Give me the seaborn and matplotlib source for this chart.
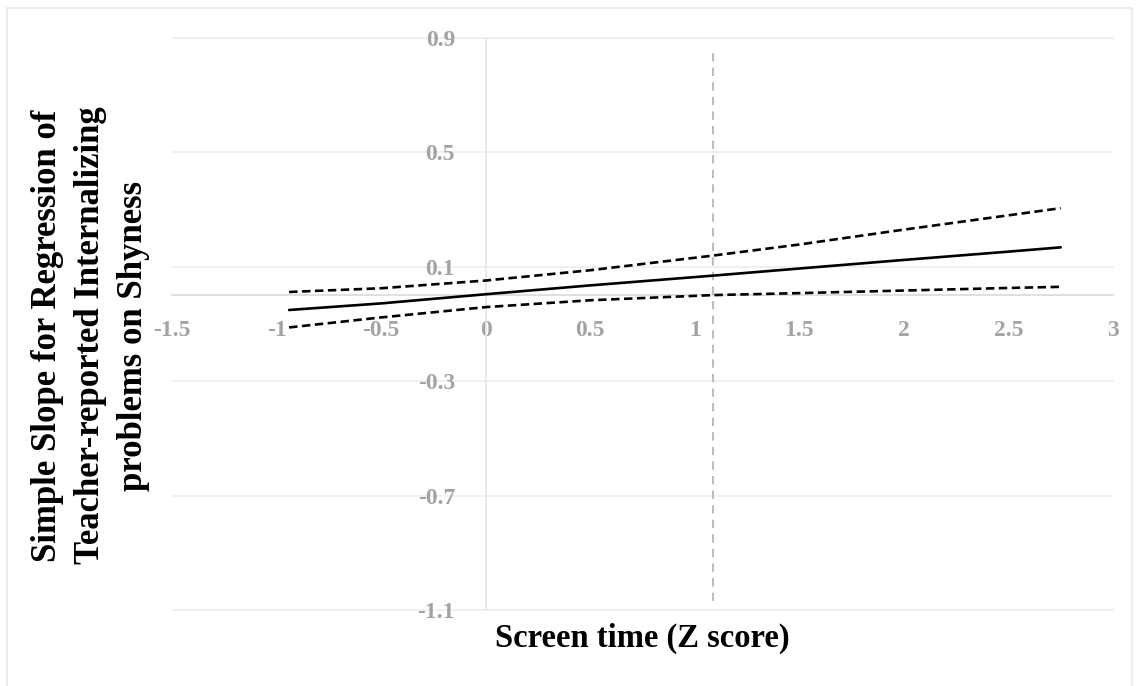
import matplotlib
matplotlib.use("Agg")
import matplotlib.pyplot as plt
import seaborn as sns
import pandas as pd
from matplotlib.patches import Rectangle

# ---- data ----
screen_time = [-0.94, -0.5, 0.0, 0.5, 1.085, 1.5, 2.0, 2.5, 2.75]
simple_slope = [-0.051, -0.028, 0.004, 0.035, 0.069, 0.094, 0.124, 0.153, 0.168]
upper_ci = [0.012, 0.025, 0.052, 0.088, 0.139, 0.178, 0.230, 0.280, 0.305]
lower_ci = [-0.112, -0.077, -0.041, -0.017, 0.001, 0.008, 0.017, 0.026, 0.030]
jn_point = 1.085
x_ticks = [-1.5, -1, -0.5, 0, 0.5, 1, 1.5, 2, 2.5, 3]
x_tick_labels = ["-1.5", "-1", "-0.5", "0", "0.5", "1", "1.5", "2", "2.5", "3"]
y_ticks = [-1.1, -0.7, -0.3, 0.1, 0.5, 0.9]
y_tick_labels = ["-1.1", "-0.7", "-0.3", "0.1", "0.5", "0.9"]
x_label = "Screen time (Z score)"
y_label = "Simple Slope for Regression of\nTeacher-reported Internalizing\nproblems on Shyness"

df = pd.DataFrame({"x": screen_time, "slope": simple_slope,
                   "upper": upper_ci, "lower": lower_ci})

sns.set_style("white")
plt.rcParams["font.family"] = ["Liberation Serif", "DejaVu Serif"]

fig = plt.figure(figsize=(11.39, 6.86), dpi=100)
ax = fig.add_axes([172 / 1139, 1 - 610 / 686, 941 / 1139, 572 / 686])

# figure border
fig.patches.append(Rectangle((6.5 / 1139, -0.01), (1132 - 6.5) / 1139, 1 - 8 / 686 + 0.01,
                             transform=fig.transFigure, fill=False,
                             edgecolor="#ececec", linewidth=1.5))

# horizontal gridlines
for yv in y_ticks:
    ax.axhline(yv, color="#f0f0f0", lw=1.4, zorder=0, clip_on=False)

dash = (0, (3.2, 1.7))
sns.lineplot(data=df, x="x", y="upper", color="black", lw=1.9, linestyle=dash, ax=ax, zorder=3)
sns.lineplot(data=df, x="x", y="lower", color="black", lw=1.9, linestyle=dash, ax=ax, zorder=3)
sns.lineplot(data=df, x="x", y="slope", color="black", lw=1.9, ax=ax, zorder=3)

ax.vlines(jn_point, -1.07, 0.86, colors="#bdbdbd", linestyles=(0, (4, 3)), lw=1.5, zorder=2)

ax.set_xlim(-1.5, 3)
ax.set_ylim(-1.1, 0.9)

for s in ["top", "right"]:
    ax.spines[s].set_visible(False)
ax.spines["bottom"].set_position(("data", 0))
ax.spines["left"].set_position(("data", 0))
ax.spines["bottom"].set_color("#d9d9d9")
ax.spines["left"].set_color("#e6e6e6")
ax.spines["bottom"].set_linewidth(1.2)
ax.spines["left"].set_linewidth(1.2)
ax.spines["bottom"].set_zorder(1)
ax.spines["left"].set_zorder(1)

ax.set_xticks(x_ticks)
ax.set_xticklabels(x_tick_labels)
ax.set_yticks(y_ticks)
ax.set_yticklabels(y_tick_labels)
ax.tick_params(axis="x", length=0, pad=18, labelsize=17, labelcolor="#a3a3a3")
ax.tick_params(axis="y", length=0, pad=22, labelsize=17, labelcolor="#a3a3a3")
for lab in ax.get_xticklabels() + ax.get_yticklabels():
    lab.set_fontweight("bold")

ax.set_xlabel(x_label, fontsize=23.5, fontweight="bold", color="black")
ax.xaxis.set_label_coords(0.5, -0.049)
ax.xaxis.label.set_va("center")

ax.set_ylabel(y_label, fontsize=25, fontweight="bold", color="black", linespacing=1.4)
ax.yaxis.set_label_coords(-0.0865, 0.48)
ax.yaxis.label.set_va("center")
ax.yaxis.label.set_ha("center")
ax.yaxis.label.set_multialignment("center")

fig.savefig("out.png", dpi=100)
